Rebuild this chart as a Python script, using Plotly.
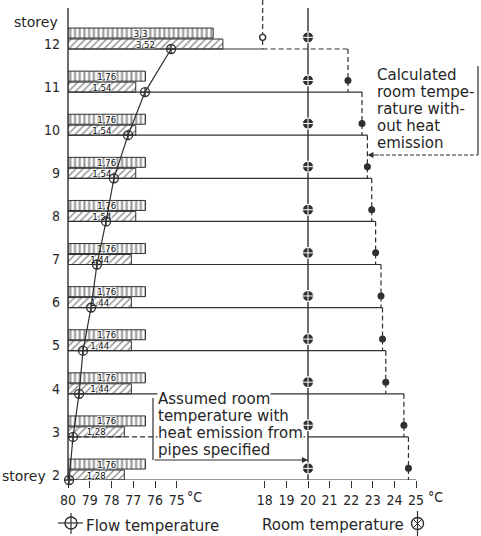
import plotly.graph_objects as go

# ---- data: one entry per storey, bottom to top ----
storeys = [2, 3, 4, 5, 6, 7, 8, 9, 10, 11, 12]
flow_temperature = [79.95, 79.77, 79.49, 79.31, 78.94, 78.67, 78.25, 77.89, 77.24, 76.46, 75.26]
room_assumed = [20, 20, 20, 20, 20, 20, 20, 20, 20, 20, 20]
room_calculated = [24.65, 24.44, 23.6, 23.45, 23.38, 23.13, 22.95, 22.75, 22.5, 21.85, 17.9]
emission_upper = [1.76, 1.76, 1.76, 1.76, 1.76, 1.76, 1.76, 1.76, 1.76, 1.76, 3.3]
emission_lower = [1.28, 1.28, 1.44, 1.44, 1.44, 1.44, 1.54, 1.54, 1.54, 1.54, 3.52]

flow_ticks = [80, 79, 78, 77, 76, 75]
room_ticks = [18, 19, 20, 21, 22, 23, 24, 25]
storey_labels = [str(s) for s in storeys]

calc_note = ["Calculated", "room tempe-", "rature with-", "out heat", "emission"]
assumed_note = ["Assumed room", "temperature with", "heat emission from", "pipes specified"]

# ---- geometry ----
W, H = 481, 536
ML, MR, MT, MB = 68, 3, 0, 56
PW, PH = W - ML - MR, H - MT - MB
STOREY_PX = 43.1     # height of one storey
FLOW_PX = 21.75      # px per K, flow scale
ROOM_PX = 21.6       # px per K, room scale
BAR_PX = 44.0        # px per unit of the emission bars
ROOM20_OFFSET = 240  # distance of the 20 degC mark from the left axis

y_bottom = storeys[0]
y_top = y_bottom + PH / STOREY_PX
axis_top = y_top - 8 / STOREY_PX
flow_range = [80, 80 - PW / FLOW_PX]
room_range = [20 - ROOM20_OFFSET / ROOM_PX, 20 + (PW - ROOM20_OFFSET) / ROOM_PX]
bar_range = [0, PW / BAR_PX]

LOWER_OFF, UPPER_OFF, BAR_H = 0.116, 0.37, 0.232
MARK_OFF = 0.27
INK = "#303030"
TXT = "#262626"
FONT = "DejaVu Sans"
NUMFONT = "Liberation Sans Narrow, DejaVu Sans Condensed, Liberation Sans, sans-serif"


def px_x(xp):
    return (xp - ML) / PW


def px_y(yp):
    return (MT + PH - yp) / PH


def comma(v):
    return f"{v:g}".replace(".", ",")


fig = go.Figure()

# ---- emission bars (base axis, drawn lowest) ----
bar_text = dict(family=NUMFONT, size=9.5, color="#111", shadow="auto")
fig.add_trace(go.Bar(
    x=emission_lower, y=[s + LOWER_OFF for s in storeys], orientation="h",
    width=BAR_H, base=0, xaxis="x", yaxis="y",
    marker=dict(color="white", line=dict(color=INK, width=1),
                pattern=dict(shape="/", fgcolor=INK, bgcolor="white", size=5, solidity=0.3)),
    text=[comma(v) for v in emission_lower], textposition="inside",
    insidetextanchor="middle", constraintext="none", cliponaxis=False,
    textfont=bar_text, showlegend=False, hoverinfo="skip"))
fig.add_trace(go.Bar(
    x=emission_upper, y=[s + UPPER_OFF for s in storeys], orientation="h",
    width=BAR_H, base=0, xaxis="x", yaxis="y",
    marker=dict(color="white", line=dict(color=INK, width=1),
                pattern=dict(shape="|", fgcolor=INK, bgcolor="white", size=4.7, solidity=0.45)),
    text=[comma(v) for v in emission_upper], textposition="inside",
    insidetextanchor="middle", constraintext="none", cliponaxis=False,
    textfont=bar_text, showlegend=False, hoverinfo="skip"))

# ---- flow temperature ----
fig.add_trace(go.Scatter(
    x=flow_temperature, y=storeys, xaxis="x2", yaxis="y", mode="lines+markers",
    line=dict(color=INK, width=1.2),
    marker=dict(symbol="circle-cross-open", size=9, color=INK, line=dict(width=1.3)),
    cliponaxis=False, showlegend=False, hoverinfo="skip"))

# ---- floor lines and the stepped calculated room temperature ----
solid_x, solid_y, dash_x, dash_y = [], [], [], []


def seg(xs, ys, x0, y0, x1, y1):
    xs += [x0, x1, None]
    ys += [y0, y1, None]


left = room_range[0]
R = dict(zip(storeys, room_calculated))
seg(solid_x, solid_y, left, storeys[0], room_ticks[-1], storeys[0])
for s in storeys[1:-1]:
    if s == 3:
        seg(dash_x, dash_y, left, s, 20, s)
        seg(solid_x, solid_y, 20, s, R[s - 1], s)
    else:
        seg(solid_x, solid_y, left, s, R[s - 1], s)
top = storeys[-1]
seg(solid_x, solid_y, left, top, R[top], top)
seg(dash_x, dash_y, R[top], top, R[top - 1], top)
for s in storeys[:-1]:
    seg(dash_x, dash_y, R[s], s + 1, R[s], s)
seg(dash_x, dash_y, R[top], y_top, R[top], top)

fig.add_trace(go.Scatter(x=solid_x, y=solid_y, xaxis="x3", yaxis="y", mode="lines",
                         line=dict(color=INK, width=1.2), showlegend=False, hoverinfo="skip"))
fig.add_trace(go.Scatter(x=dash_x, y=dash_y, xaxis="x3", yaxis="y", mode="lines",
                         line=dict(color=INK, width=1.2, dash="5px,3px"),
                         showlegend=False, hoverinfo="skip"))

# ---- assumed room temperature (20 degC) ----
fig.add_trace(go.Scatter(x=[room_assumed[0], room_assumed[-1]], y=[y_bottom, axis_top],
                         xaxis="x3", yaxis="y", mode="lines",
                         line=dict(color=INK, width=1.4), showlegend=False, hoverinfo="skip"))
fig.add_trace(go.Scatter(
    x=room_assumed, y=[s + MARK_OFF for s in storeys], xaxis="x3", yaxis="y", mode="markers",
    marker=dict(symbol="circle-cross", size=11, color=INK, line=dict(color="white", width=1)),
    cliponaxis=False, showlegend=False, hoverinfo="skip"))
fig.add_trace(go.Scatter(
    x=room_calculated[:-1], y=[s + MARK_OFF for s in storeys[:-1]], xaxis="x3", yaxis="y",
    mode="markers", marker=dict(symbol="circle", size=7, color=INK),
    cliponaxis=False, showlegend=False, hoverinfo="skip"))
fig.add_trace(go.Scatter(
    x=room_calculated[-1:], y=[storeys[-1] + MARK_OFF], xaxis="x3", yaxis="y",
    mode="markers", marker=dict(symbol="circle", size=6, color="white", line=dict(color=INK, width=1.4)),
    cliponaxis=False, showlegend=False, hoverinfo="skip"))

shapes = []
annotations = []


def line_px(x0, y0, x1, y1, dash="solid", width=1.2):
    shapes.append(dict(type="line", xref="paper", yref="paper",
                       x0=px_x(x0), y0=px_y(y0), x1=px_x(x1), y1=px_y(y1),
                       line=dict(color=INK, width=width, dash=dash)))


def text_px(x, y, text, anchor="left", size=15, bg=None, family=FONT):
    annotations.append(dict(xref="paper", yref="paper", x=px_x(x), y=px_y(y), text=text,
                            showarrow=False, xanchor=anchor, yanchor="middle",
                            font=dict(family=family, size=size, color=TXT),
                            bgcolor=bg, borderpad=0))


# left axis
shapes.append(dict(type="line", xref="paper", yref="y", x0=0, x1=0, y0=y_bottom, y1=axis_top,
                   line=dict(color=INK, width=1.4)))

# storey captions
text_px(59, 22, "storey", anchor="right", size=14)
text_px(1, 476, "storey", anchor="left", size=14)

# callout: calculated room temperature
for i, t in enumerate(calc_note):
    text_px(376, 80 + i * 17 - 5, t)
line_px(478, 66, 478, 155)
line_px(380, 155, 478, 155, dash="4px,2px", width=1)
annotations.append(dict(xref="x3", yref="y", x=room_calculated[storeys.index(9)],
                        y=y_bottom + (PH - 155) / STOREY_PX, text="", showarrow=True,
                        ax=13, ay=0, arrowhead=2, arrowsize=1.1, arrowwidth=1.1,
                        arrowcolor=INK, standoff=0))

# callout: assumed room temperature
for i, t in enumerate(assumed_note):
    text_px(157, 404 + i * 17 - 5, t, bg="white")
line_px(153, 398, 153, 460)
annotations.append(dict(xref="x3", yref="y", x=room_assumed[0],
                        y=y_bottom + (PH - 460) / STOREY_PX, text="", showarrow=True,
                        ax=-155, ay=0, arrowhead=2, arrowsize=1.1, arrowwidth=1.1,
                        arrowcolor=INK, standoff=0))

# unit labels
annotations.append(dict(xref="x2", yref="paper", x=74.2, y=px_y(497), text="°C", showarrow=False,
                        font=dict(family=NUMFONT, size=14, color=TXT), yanchor="middle"))
annotations.append(dict(xref="x3", yref="paper", x=25.9, y=px_y(497), text="°C", showarrow=False,
                        font=dict(family=NUMFONT, size=14, color=TXT), yanchor="middle"))

# legend
cx, cy, r = 71, 523, 6
shapes.append(dict(type="circle", xref="paper", yref="paper", x0=px_x(cx - r), x1=px_x(cx + r),
                   y0=px_y(cy + r), y1=px_y(cy - r), line=dict(color=INK, width=1.4)))
line_px(58, cy, 83, cy)
line_px(cx, 513, cx, 534)
text_px(85, 525.5, "Flow temperature")

cx, cy = 417.5, 523.5
shapes.append(dict(type="circle", xref="paper", yref="paper", x0=px_x(cx - r), x1=px_x(cx + r),
                   y0=px_y(cy + r), y1=px_y(cy - r), line=dict(color=INK, width=1.4)))
line_px(cx - 4, cy - 4, cx + 4, cy + 4, width=1)
line_px(cx - 4, cy + 4, cx + 4, cy - 4, width=1)
line_px(cx, 511, cx, 536)
text_px(261, 524.5, "Room temperature")

tickfont = dict(family=NUMFONT, size=14, color=TXT)
fig.update_layout(
    width=W, height=H, margin=dict(l=ML, r=MR, t=MT, b=MB, autoexpand=False),
    paper_bgcolor="white", plot_bgcolor="white", barmode="overlay",
    xaxis=dict(range=bar_range, visible=False, fixedrange=True),
    xaxis2=dict(range=flow_range, overlaying="x", anchor="y", side="bottom",
                tickvals=flow_ticks, ticktext=[str(t) for t in flow_ticks],
                ticks="outside", ticklen=7, tickwidth=1.2, tickcolor=INK,
                showgrid=False, zeroline=False, showline=False, tickfont=tickfont),
    xaxis3=dict(range=room_range, overlaying="x", anchor="y", side="bottom",
                tickvals=room_ticks, ticktext=[str(t) for t in room_ticks],
                ticks="outside", ticklen=7, tickwidth=1.2, tickcolor=INK,
                showgrid=False, zeroline=False, showline=False, tickfont=tickfont),
    yaxis=dict(range=[y_bottom, y_top], tickvals=[s + 0.12 for s in storeys],
               ticktext=storey_labels, ticks="", ticklabelstandoff=7,
               showgrid=False, zeroline=False, showline=False, tickfont=tickfont),
    shapes=shapes, annotations=annotations,
)

fig.write_html("out.html")
